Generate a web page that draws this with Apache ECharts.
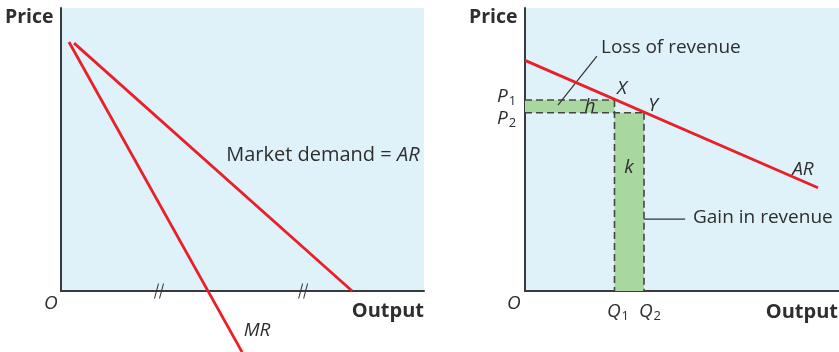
<!DOCTYPE html>
<html>
<head>
<meta charset="utf-8">
<script src="https://cdn.jsdelivr.net/npm/echarts@6/dist/echarts.min.js"></script>
<style>
  html, body { margin: 0; padding: 0; background: #fff; }
  #chart { width: 839px; height: 352px; }
</style>
</head>
<body>
<div id="chart"></div>
<script>
// Left panel: market demand (AR) and marginal revenue (MR), axes scaled 0..100
const leftAR = [[3.6, 87.6], [80.2, 0]];
const leftMR = [[2.2, 88.0], [49.9, -21.6]];
const tieMarkX = [27.0, 66.7];           // "//" equal-distance marks on the output axis

// Right panel: a price cut from P1 to P2 along AR
const rightAR = [[0, 81.5], [93.3, 36.5]];
const priceLevels = { P1: 67.5, P2: 63.0 };
const outputLevels = { Q1: 28.5, Q2: 37.9 };

const FONT = '"Open Sans", "Noto Sans", sans-serif';
const TXT = '#2e2e2e';
const RED = '#e8202a';
const GREEN = '#a8d7a0';
const DASH = '#454545';
const BG = '#dff1f9';

const P1 = priceLevels.P1, P2 = priceLevels.P2, Q1 = outputLevels.Q1, Q2 = outputLevels.Q2;

const rich = {
  n: { fontFamily: FONT, fontSize: 19, color: TXT },
  w: { fontFamily: FONT, fontSize: 20, color: TXT },
  i: { fontFamily: FONT, fontSize: 19, color: TXT, fontStyle: 'italic' },
  wi: { fontFamily: FONT, fontSize: 20, color: TXT, fontStyle: 'italic' },
  s: { fontFamily: FONT, fontSize: 13, color: TXT, padding: [10, 0, 0, 1] }
};

function textPoint(x, y, text, align) {
  return {
    value: [x, y],
    label: { show: true, position: 'inside', formatter: text, align: align || 'center',
             verticalAlign: 'middle', rich: rich }
  };
}

function axisPair(idx) {
  const line = { show: true, onZero: false, lineStyle: { color: '#3a3a3a', width: 2 } };
  return {
    x: { type: 'value', gridIndex: idx, min: 0, max: 100, axisLine: line,
         axisTick: { show: false }, axisLabel: { show: false }, splitLine: { show: false } },
    y: { type: 'value', gridIndex: idx, min: 0, max: 100, axisLine: line,
         axisTick: { show: false }, axisLabel: { show: false }, splitLine: { show: false } }
  };
}
const a0 = axisPair(0), a1 = axisPair(1);

const chart = echarts.init(document.getElementById('chart'), null, { renderer: 'canvas' });

const redLine = (data, xi) => ({
  type: 'line', xAxisIndex: xi, yAxisIndex: xi, data: data, symbol: 'none',
  clip: false, silent: true, z: 5,
  lineStyle: { color: RED, width: 2.8 }
});
const dashLine = (data) => ({
  type: 'line', xAxisIndex: 1, yAxisIndex: 1, data: data, symbol: 'none',
  silent: true, z: 4, lineStyle: { color: DASH, width: 1.6, type: [7, 4] }
});
const leader = (data) => ({
  type: 'line', xAxisIndex: 1, yAxisIndex: 1, data: data, symbol: 'none',
  silent: true, z: 4, lineStyle: { color: '#333', width: 1.2 }
});
const labelLayer = (xi, data) => ({
  type: 'scatter', xAxisIndex: xi, yAxisIndex: xi, symbolSize: 0, clip: false, silent: true, z: 6,
  itemStyle: { opacity: 1 }, data: data
});

chart.setOption({
  animation: false,
  grid: [
    { left: 61, top: 8, width: 363, height: 283, show: true, backgroundColor: BG, borderWidth: 0 },
    { left: 525, top: 8, width: 314, height: 283, show: true, backgroundColor: BG, borderWidth: 0 }
  ],
  xAxis: [a0.x, a1.x],
  yAxis: [a0.y, a1.y],
  series: [
    redLine(leftAR, 0),
    redLine(leftMR, 0),
    {
      // double-slash marks showing the two equal output distances
      type: 'scatter', xAxisIndex: 0, yAxisIndex: 0, clip: false, silent: true, z: 7,
      symbol: 'path://M0,16L4,0M5,16L9,0', symbolSize: [9, 15],
      itemStyle: { color: 'rgba(0,0,0,0)', borderColor: '#333', borderWidth: 1.3, opacity: 1 },
      data: tieMarkX.map(x => [x, 0])
    },
    labelLayer(0, [
      textPoint(45.5, 48, '{w|Market demand = }{wi|AR}', 'left'),
      textPoint(54, -14.1, '{i|MR}')
    ]),
    // green revenue areas
    {
      type: 'line', xAxisIndex: 1, yAxisIndex: 1, data: [], symbol: 'none', silent: true,
      markArea: {
        silent: true,
        itemStyle: { color: GREEN, opacity: 1 },
        data: [
          [{ coord: [0, P1] }, { coord: [Q1, P2] }],
          [{ coord: [Q1, P2] }, { coord: [Q2, 0] }]
        ]
      }
    },
    dashLine([[0, P1], [Q1, P1]]),
    dashLine([[0, P2], [Q2, P2]]),
    dashLine([[Q1, P1], [Q1, 0]]),
    dashLine([[Q2, P2], [Q2, 0]]),
    leader([[10.5, 65.7], [22.9, 83.0]]),
    leader([[Q2, 25.4], [51, 25.4]]),
    redLine(rightAR, 1),
    labelLayer(1, [
      textPoint(24.2, 85.9, '{n|Loss of revenue}', 'left'),
      textPoint(30.9, 71.6, '{i|X}'),
      textPoint(40.8, 65.4, '{i|Y}'),
      textPoint(20.7, 65.0, '{i|h}'),
      textPoint(33.1, 43.5, '{i|k}'),
      textPoint(88.5, 42.8, '{i|AR}'),
      textPoint(53.5, 25.8, '{n|Gain in revenue}', 'left'),
      textPoint(-2.8, P1 + 1.2, '{i|P}{s|1}', 'right'),
      textPoint(-2.8, P2 - 2.0, '{i|P}{s|2}', 'right'),
      textPoint(Q1 + 1.1, -7.3, '{i|Q}{s|1}'),
      textPoint(Q2 + 1.9, -7.3, '{i|Q}{s|2}')
    ])
  ],
  graphic: [
    { type: 'text', left: 5, top: 7, style: { text: 'Price', font: 'bold 19.5px ' + FONT, fill: TXT } },
    { type: 'text', left: 44, top: 294, style: { text: 'O', font: 'italic 19px ' + FONT, fill: TXT } },
    { type: 'text', right: 415, top: 301, style: { text: 'Output', font: 'bold 20px ' + FONT, fill: TXT } },
    { type: 'text', left: 469, top: 7, style: { text: 'Price', font: 'bold 19.5px ' + FONT, fill: TXT } },
    { type: 'text', left: 507, top: 294, style: { text: 'O', font: 'italic 19px ' + FONT, fill: TXT } },
    { type: 'text', right: 1, top: 302, style: { text: 'Output', font: 'bold 20px ' + FONT, fill: TXT } }
  ]
});
</script>
</body>
</html>
